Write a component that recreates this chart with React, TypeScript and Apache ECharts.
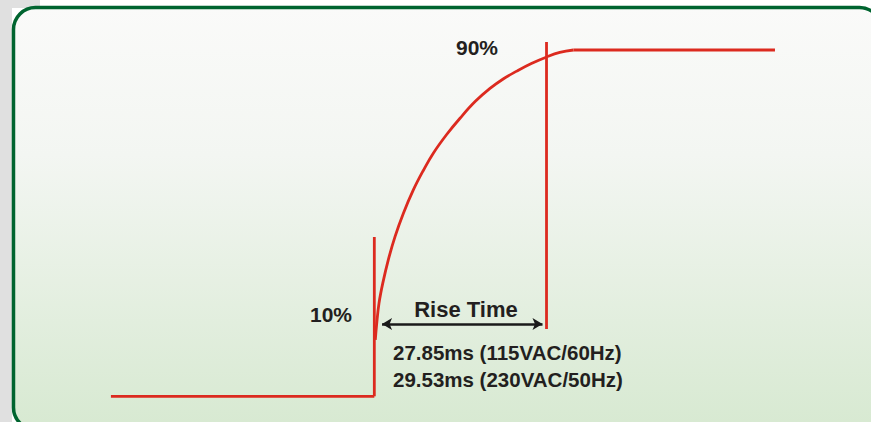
import React, { useEffect, useRef } from "react";
import * as echarts from "echarts";

// Waveform (time in ms, level in % of the final output)
const baseline: [number, number][] = [[-42.6, 0], [0, 0]];
const riseCurve: [number, number][] = [
  [0.16, 16.3], [0.39, 21.1], [0.76, 26.9], [1.36, 32.6], [2.26, 39.4],
  [3.35, 46.1], [4.69, 52.8], [6.31, 59.6], [7.92, 65.2], [9.54, 70.2],
  [11.7, 75.6], [13.86, 80.3], [16.3, 85.1], [18.71, 88.9], [20.9, 91.7],
  [23.03, 93.9], [25.4, 96.1], [27.88, 98.0], [30.0, 99.3], [32.2, 100],
];
const plateau: [number, number][] = [[32.2, 100], [64.8, 100]];
const marker10: [number, number][] = [[0, 0], [0, 46.0]];
const marker90: [number, number][] = [[27.85, 19.4], [27.85, 102.3]];
const riseArrow: [number, number][] = [[1.25, 20.9], [27.2, 20.9]];

const labels = {
  p90: "90%",
  p10: "10%",
  rise: "Rise Time",
  line1: "27.85ms (115VAC/60Hz)",
  line2: "29.53ms (230VAC/50Hz)",
};

const RED = "#dc2a1f";
const FONT = "'Liberation Sans', Arial, sans-serif";

export default function App() {
  const ref = useRef<HTMLDivElement>(null);
  useEffect(() => {
    if (!ref.current) return;
    const chart = echarts.init(ref.current, undefined, { renderer: "svg" });
    const lineSeries = (name: string, data: [number, number][], smooth: boolean | number = false) => ({
      name,
      type: "line",
      data,
      smooth,
      symbol: "none",
      showSymbol: false,
      silent: true,
      z: 5,
      lineStyle: { color: RED, width: 2.8, cap: "butt" },
    });
    const text = (t: string, x: number, y: number, size: number, align = "left") => ({
      type: "text",
      x,
      y,
      z: 100,
      silent: true,
      style: {
        text: t,
        fill: "#231f20",
        font: `bold ${size}px ${FONT}`,
        textAlign: align,
        textVerticalAlign: "middle",
      },
    });
    chart.setOption({
      animation: false,
      backgroundColor: "#ffffff",
      grid: { left: 0, right: 0, top: 0, bottom: 0, containLabel: false },
      xAxis: { type: "value", min: -60.54, max: 80.33, show: false },
      yAxis: { type: "value", min: -7.42, max: 114.44, show: false },
      graphic: [
        { type: "rect", z: -20, silent: true, shape: { x: 0, y: 0, width: 12, height: 422 }, style: { fill: "#e0e0e0" } },
        { type: "rect", z: -20, silent: true, shape: { x: 0, y: 0, width: 40, height: 8 }, style: { fill: "#e0e0e0" } },
        {
          type: "rect",
          z: -10,
          silent: true,
          shape: { x: 13.5, y: 7.5, width: 868, height: 422, r: 22 },
          style: {
            fill: new echarts.graphic.LinearGradient(0, 0, 0, 1, [
              { offset: 0, color: "#fafaf9" },
              { offset: 0.35, color: "#f3f6f2" },
              { offset: 1, color: "#d7e9d1" },
            ]),
            stroke: "#00642f",
            lineWidth: 3.5,
          },
        },
        text(labels.p90, 456, 47, 21),
        text(labels.p10, 310, 314, 21),
        text(labels.rise, 466, 309, 22, "center"),
        text(labels.line1, 393, 352, 20.5),
        text(labels.line2, 393, 379, 20.5),
      ],
      series: [
        lineSeries("baseline", baseline),
        lineSeries("rise", riseCurve, 0.4),
        lineSeries("plateau", plateau),
        lineSeries("marker10", marker10),
        {
          ...lineSeries("marker90", marker90),
          markLine: {
            silent: true,
            symbol: ["arrow", "arrow"],
            symbolSize: [9, 10],
            label: { show: false },
            lineStyle: { color: "#1a1a1a", width: 2.6, type: "solid" },
            data: [[{ coord: riseArrow[0] }, { coord: riseArrow[1] }]],
          },
        },
      ],
    });
    return () => chart.dispose();
  }, []);
  return (
    <div
      ref={ref}
      style={{ position: "absolute", left: 0, top: 0, width: 871, height: 422 }}
    />
  );
}
